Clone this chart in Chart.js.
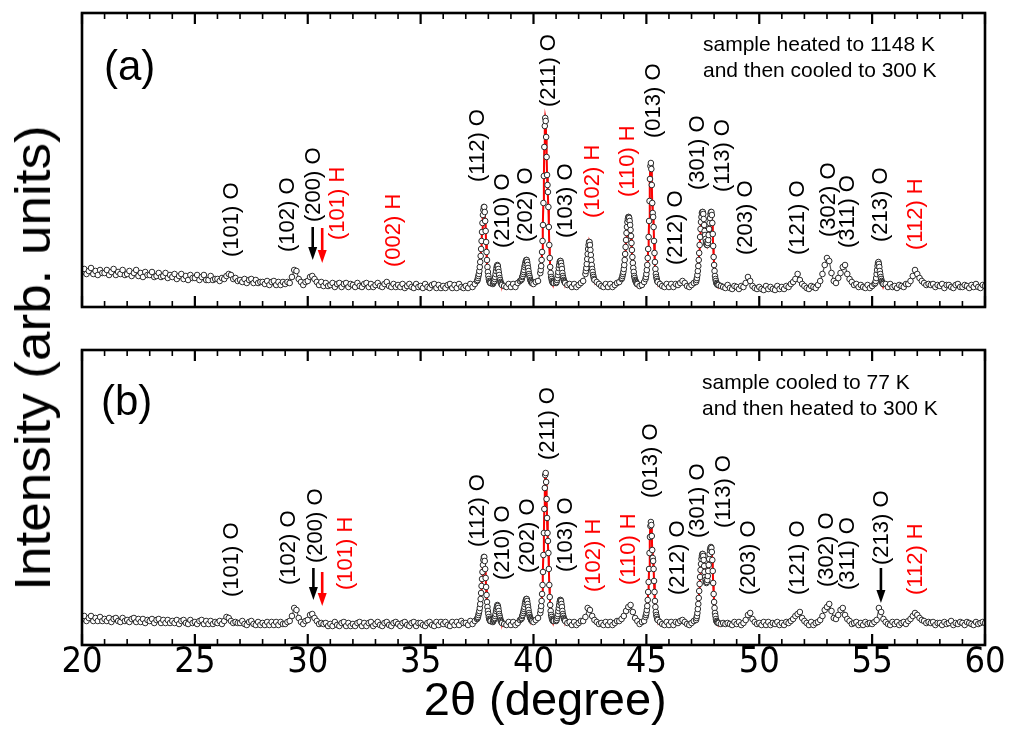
<!DOCTYPE html>
<html><head><meta charset="utf-8">
<script src="https://cdn.jsdelivr.net/npm/chart.js@4.4.1/dist/chart.umd.min.js"></script>
<style>
html,body{margin:0;padding:0;background:#fff;}
#wrap{position:relative;width:1009px;height:736px;overflow:hidden;background:#fff;}
#ca{position:absolute;left:0;top:0;}
#cb{position:absolute;left:0;top:330px;}
#ytitle{position:absolute;left:33px;top:358px;transform:translate(-50%,-50%) rotate(-90deg) scaleX(1.06);font-family:"Liberation Sans",Arial,sans-serif;font-size:50px;white-space:nowrap;color:#000;line-height:1;}
</style></head>
<body><div id="wrap"><canvas id="ca" width="1009" height="330"></canvas><canvas id="cb" width="1009" height="406"></canvas><div id="ytitle">Intensity (arb. units)</div></div>
<script>
// ---- data ----
const twoThetaStart = 20.0;
const twoThetaStep = 0.1;
const fineStep = 0.02;
const xTicks = [20, 25, 30, 35, 40, 45, 50, 55, 60];

// (a) sample heated to 1148 K and then cooled to 300 K -- survey scan
const intensityA = [
 35,38,33,36,39,33,36,32,37,34,
 34,37,32,35,38,32,35,33,37,32,
 33,36,31,34,37,31,34,30,35,32,
 32,35,30,31,34,30,31,34,29,32,
 30,33,28,31,33,28,31,27,32,29,
 29,32,27,30,32,27,27,31,27,28,
 28,26,29,28,31,33,32,28,29,26,
 27,25,28,24,27,28,24,27,24,25,
 25,23,26,22,25,26,22,25,22,25,
 23,25,24,30,37,36,28,25,22,25,
 26,30,31,28,25,22,25,21,24,21,
 22,24,20,23,24,20,23,24,20,23,
 22,20,24,21,20,23,24,20,23,20,
 22,24,21,20,23,25,21,20,23,20,
 22,20,23,19,21,23,20,19,23,20,
 21,19,23,20,19,22,23,19,22,19,
 21,19,22,23,19,22,19,23,20,19,
 21,19,23,20,23,27,40,66,100,60,
 31,25,23,31,42,33,25,21,20,23,
 20,23,20,24,26,32,42,47,36,26,
 23,25,26,38,104,181,132,62,28,24,
 23,34,46,35,26,22,23,20,23,20,
 22,24,26,34,53,62,38,31,25,23,
 21,20,23,20,23,20,22,24,25,28,
 38,67,90,77,44,27,24,21,22,25,
 33,70,144,90,38,25,23,21,20,23,
 20,23,20,23,22,24,26,24,21,20,
 22,24,27,41,78,95,71,62,84,92,
 36,24,22,21,20,19,22,19,18,21,
 20,18,21,20,24,30,26,21,19,18,
 20,18,17,21,18,20,18,17,21,18,
 20,18,21,20,23,25,28,33,27,23,
 21,19,18,21,20,19,22,26,33,42,
 49,46,34,26,24,29,34,40,42,33,
 28,25,22,23,20,22,20,19,22,19,
 21,23,27,45,33,26,23,20,23,20,
 21,19,22,21,20,23,23,26,31,37,
 33,29,26,24,22,23,22,23,20,22,
 21,23,19,22,22,20,19,22,23,20,
 20,22,21,19,22,20,23,20,19,22,
 21
];
// (a) fine scans over the peaks (step 0.02 deg)
const fineStartA = [37.50, 38.20, 39.46, 40.30, 41.00, 42.30, 43.90, 44.96, 47.20, 55.14];
const scanA_112 = [26,27,29,31,33,36,40,45,51,58,66,75,84,92,97,100,100,95,86,76,65,55,47,40,35,31,28,26,25,24,24];
const scanA_210 = [23,24,25,26,28,30,33,36,39,41,42,41,38,35,32,29,27,25,24,23,22];
const scanA_202 = [27,28,30,31,33,35,37,40,42,44,46,47,47,45,42,39,36,33,31,29,27,26,25,24,24];
const scanA_211 = [34,37,41,47,55,66,82,104,131,160,181,189,186,170,150,132,122,115,100,80,62,49,40,34,30,28,26,25,24];
const scanA_103 = [24,25,27,29,32,35,39,42,45,46,46,44,41,38,34,31,29,27,26,25,24];
const scanA_102H = [33,36,39,43,48,53,58,62,65,65,62,57,52,47,42,38,35,32,30,28,27];
const scanA_110H = [28,29,31,33,35,38,42,47,53,60,67,74,80,85,88,90,90,89,86,82,77,71,64,57,50,44,39,35,31,29,27,26,25,24,23,23];
const scanA_013 = [28,30,33,37,42,49,58,70,86,106,128,141,144,138,122,104,94,90,80,66,54,45,38,33,30,28,26,25];
const scanA_301_113 = [25,27,29,32,36,41,47,54,62,70,78,85,90,94,95,95,93,88,82,76,72,68,65,63,62,62,64,67,72,78,84,89,93,95,95,92,84,73,61,50,42,36,31,28,26,24,23,23,22];
const scanA_213 = [24,26,29,33,37,41,44,45,43,40,36,33,30,28,26,25,24,23,23];

// (b) sample cooled to 77 K and then heated to 300 K -- survey scan
const intensityB = [
 26,29,24,27,29,24,27,24,28,24,
 26,24,27,23,26,27,24,23,27,24,
 25,23,26,27,23,26,23,26,22,25,
 24,26,22,25,26,22,25,22,25,22,
 24,22,25,21,24,25,22,21,25,22,
 23,21,24,25,21,24,21,24,21,23,
 22,24,21,24,28,27,24,22,23,22,
 22,24,21,20,23,24,21,20,23,20,
 22,20,23,20,23,20,23,20,23,21,
 21,23,24,29,37,35,27,23,21,24,
 25,30,31,27,24,21,22,21,22,19,
 21,19,23,20,19,22,23,19,22,19,
 21,19,22,23,19,22,19,22,23,19,
 21,23,20,19,22,23,20,19,22,23,
 21,19,22,23,20,19,22,23,19,22,
 22,20,19,22,23,20,19,23,20,23,
 21,23,20,19,23,20,23,20,24,22,
 22,20,24,21,24,26,34,52,88,58,
 31,24,23,30,40,32,25,21,20,23,
 20,23,20,22,25,31,39,46,36,26,
 23,25,27,32,60,157,127,60,28,24,
 23,30,45,36,26,22,23,20,23,20,
 22,24,24,28,37,35,29,25,23,21,
 22,20,23,20,23,20,22,24,24,26,
 29,34,38,40,33,27,24,21,23,24,
 32,63,123,84,38,25,23,21,20,23,
 20,23,20,23,22,24,25,23,21,20,
 22,24,25,41,75,91,68,65,91,93,
 43,24,22,21,22,21,22,21,20,23,
 21,23,20,22,25,30,32,26,23,21,
 22,20,23,20,23,20,22,21,23,20,
 22,20,23,22,24,26,29,31,33,27,
 24,22,20,23,20,22,23,25,29,35,
 38,41,34,27,26,30,35,37,30,26,
 24,21,22,23,20,22,20,23,21,22,
 21,23,25,37,33,26,23,21,20,23,
 21,23,20,22,23,21,24,26,29,32,
 30,27,25,24,22,23,22,23,20,22,
 22,20,23,21,22,24,20,22,21,23,
 22,20,23,22,21,20,23,21,22,23,
 22
];
const fineStartB = [37.50, 38.20, 39.46, 40.30, 41.00, 44.96, 47.20];
const scanB_112 = [26,27,28,30,32,34,37,41,46,52,59,66,73,80,85,88,88,84,76,67,58,50,43,38,34,31,28,26,25,24,24];
const scanB_210 = [23,24,25,26,27,29,31,34,36,38,40,39,37,34,31,29,27,25,24,23,22];
const scanB_202 = [26,27,29,30,32,34,36,38,41,43,45,46,46,44,41,38,35,32,30,28,27,26,25,24,24];
const scanB_211 = [32,35,39,44,51,60,73,90,112,136,157,170,172,163,146,127,112,104,92,76,60,48,40,34,30,28,26,25,24];
const scanB_103 = [24,25,27,29,31,34,37,40,43,45,45,44,41,38,34,31,29,27,26,25,24];
const scanB_013 = [28,30,32,35,39,45,53,63,76,92,108,119,123,120,109,95,87,84,76,64,53,44,38,33,30,28,26,25];
const scanB_301_113 = [25,27,29,32,36,41,47,54,61,68,75,81,86,89,91,91,89,85,79,73,68,65,63,62,63,65,69,74,80,86,91,95,97,98,97,93,85,74,62,51,43,37,32,29,26,24,23,23,22];

// peak labels: text, 2theta, label base height (intensity units), phase
const peakLabelsA = [
 ['(101) O',26.60,50,'O'],['(102) O',29.07,55,'O'],['(200) O',30.23,85,'O'],['(101) H',31.28,67,'H'],
 ['(002) H',33.79,40,'H'],['(112) O',37.48,125,'O'],['(210) O',38.59,59,'O'],['(202) O',39.62,65,'O'],
 ['(211) O',40.66,200,'O'],['(103) O',41.40,69,'O'],['(102) H',42.58,89,'H'],['(110) H',44.13,110,'H'],
 ['(013) O',45.31,169,'O'],['(212) O',46.27,42,'O'],['(301) O',47.23,117,'O'],['(113) O',48.34,115,'O'],
 ['(203) O',49.37,52,'O'],['(121) O',51.66,52,'O'],['(302) O',53.06,70,'O'],['(311) O',53.87,59,'O'],
 ['(213) O',55.35,65,'O'],['(112) H',56.90,57,'H']
];
const peakLabelsB = [
 ['(101) O',26.60,48,'O'],['(102) O',29.11,60,'O'],['(200) O',30.32,82,'O'],['(101) H',31.65,55,'H'],
 ['(112) O',37.48,98,'O'],['(210) O',38.59,65,'O'],['(202) O',39.70,72,'O'],['(211) O',40.58,185,'O'],
 ['(103) O',41.40,73,'O'],['(102) H',42.65,53,'H'],['(110) H',44.20,60,'H'],['(013) O',45.16,147,'O'],
 ['(212) O',46.34,50,'O'],['(301) O',47.23,107,'O'],['(113) O',48.41,117,'O'],['(203) O',49.52,50,'O'],
 ['(121) O',51.66,50,'O'],['(302) O',52.96,58,'O'],['(311) O',53.87,55,'O'],['(213) O',55.39,80,'O'],
 ['(112) H',56.90,50,'H']
];
// arrows: 2theta, from height, to height, phase
const arrowsA = [[30.22,80,47,'O'],[30.64,79,44,'H']];
const arrowsB = [[30.25,77,45,'O'],[30.64,73,39,'H'],[55.39,77,42,'O']];

const panelTextA = ['(a)','sample heated to 1148 K','and then cooled to 300 K'];
const panelTextB = ['(b)','sample cooled to 77 K','and then heated to 300 K'];

// ---- helpers ----
const COLORS = {O:'#000000', H:'#ff0000'};
function buildPoints(coarse, starts, scans){
  const win = scans.map((s,i)=>[starts[i], starts[i]+(s.length-1)*fineStep]);
  const pts=[], red=[];
  coarse.forEach((v,i)=>{
    const x=+(twoThetaStart+i*twoThetaStep).toFixed(2);
    if(!win.some(([a,b])=>x>=a-1e-6 && x<=b+1e-6)) pts.push({x,y:v});
  });
  scans.forEach((s,j)=>{
    s.forEach((v,i)=>{ const x=+(starts[j]+i*fineStep).toFixed(2); pts.push({x,y:v}); red.push({x,y:v}); });
    red.push({x:+(win[j][1]+0.01).toFixed(2), y:null});
  });
  pts.sort((p,q)=>p.x-q.x);
  return {pts, red};
}
function hasFont(name){
  const c=document.createElement('canvas').getContext('2d');
  const s='20 25 30 2θ (degree)';
  c.font='40px monospace'; const a=c.measureText(s).width;
  c.font='40px "'+name+'", monospace'; const b=c.measureText(s).width;
  return Math.abs(a-b)>0.5;
}
const SANS = '"Liberation Sans", Arial, sans-serif';
const NARROW = hasFont('Liberation Sans Narrow') ? '"Liberation Sans Narrow"' : (hasFont('DejaVu Sans Condensed') ? '"DejaVu Sans Condensed"' : SANS);

const framePlugin = {
  id:'frame',
  afterDraw(chart){
    const {ctx, chartArea:{left,right,top,bottom}, scales:{x}} = chart;
    ctx.save();
    ctx.strokeStyle='#000';
    for(let v=20; v<=60; v++){
      const px=x.getPixelForValue(v);
      const major=(v%5===0);
      const len=major?11:6;
      ctx.lineWidth=major?2.2:1.6;
      ctx.beginPath();
      ctx.moveTo(px,bottom); ctx.lineTo(px,bottom-len);
      ctx.moveTo(px,top); ctx.lineTo(px,top+len);
      ctx.stroke();
    }
    ctx.lineWidth=2.6;
    ctx.strokeRect(left,top,right-left,bottom-top);
    ctx.restore();
  }
};

const annotPlugin = {
  id:'annot',
  afterDatasetsDraw(chart, args, opts){
    const {ctx, scales:{x,y}} = chart;
    ctx.save();
    ctx.font='22px '+SANS;
    ctx.textAlign='left'; ctx.textBaseline='middle';
    for(const [t,tt,h,k] of opts.labels){
      const px=x.getPixelForValue(tt), py=y.getPixelForValue(h);
      ctx.save(); ctx.translate(px,py); ctx.rotate(-Math.PI/2);
      ctx.fillStyle=COLORS[k]; ctx.fillText(t,0,1); ctx.restore();
    }
    for(const [tt,h0,h1,k] of opts.arrows){
      const px=x.getPixelForValue(tt), y0=y.getPixelForValue(h0), y1=y.getPixelForValue(h1);
      ctx.strokeStyle=COLORS[k]; ctx.fillStyle=COLORS[k]; ctx.lineWidth=2.6;
      ctx.beginPath(); ctx.moveTo(px,y0); ctx.lineTo(px,y1-11); ctx.stroke();
      ctx.beginPath(); ctx.moveTo(px-4.5,y1-13); ctx.lineTo(px+4.5,y1-13); ctx.lineTo(px,y1); ctx.closePath(); ctx.fill();
    }
    const [tag,l1,l2]=opts.texts; const p=opts.textPos;
    ctx.fillStyle='#000'; ctx.textAlign='left'; ctx.textBaseline='middle';
    ctx.font='42px '+SANS; ctx.fillText(tag,p.tagX,p.tagY);
    ctx.font='21px '+SANS;
    ctx.fillText(l1,p.txtX,p.l1Y);
    ctx.fillText(l2,p.txtX,p.l2Y);
    ctx.restore();
  }
};

function datasets(coarse, starts, scans){
  const {pts, red}=buildPoints(coarse, starts, scans);
  return [
    {data:pts, showLine:false, pointRadius:2.8, pointBorderWidth:1, pointBackgroundColor:'#ffffff', pointBorderColor:'#2a2a2a'},
    {data:red, showLine:true, spanGaps:false, borderColor:'#ff0000', borderWidth:2, pointRadius:0, fill:false},
    {data:pts, showLine:true, borderColor:'#555555', borderWidth:1.2, pointRadius:0, fill:false}
  ];
}

new Chart(document.getElementById('ca'), {
  type:'scatter',
  data:{datasets:datasets(intensityA, fineStartA, [scanA_112, scanA_210, scanA_202, scanA_211, scanA_103, scanA_102H, scanA_110H, scanA_013, scanA_301_113, scanA_213])},
  options:{
    responsive:false, animation:false, events:[],
    layout:{padding:{left:82,right:24,top:13,bottom:23}},
    plugins:{legend:{display:false}, tooltip:{enabled:false},
      annot:{labels:peakLabelsA, arrows:arrowsA, texts:panelTextA,
        textPos:{tagX:104,tagY:68,txtX:703,l1Y:45,l2Y:71}}},
    scales:{
      x:{type:'linear',min:20,max:60,display:false},
      y:{min:0,max:294,display:false}
    }
  },
  plugins:[annotPlugin, framePlugin]
});

new Chart(document.getElementById('cb'), {
  type:'scatter',
  data:{datasets:datasets(intensityB, fineStartB, [scanB_112, scanB_210, scanB_202, scanB_211, scanB_103, scanB_013, scanB_301_113])},
  options:{
    responsive:false, animation:false, events:[],
    layout:{padding:{left:82,right:24,top:20,bottom:0}},
    plugins:{legend:{display:false}, tooltip:{enabled:false},
      annot:{labels:peakLabelsB, arrows:arrowsB, texts:panelTextB,
        textPos:{tagX:101,tagY:73,txtX:702,l1Y:53,l2Y:79}}},
    scales:{
      x:{type:'linear',min:20,max:60,position:'bottom',
        grid:{display:false}, border:{display:false},
        afterBuildTicks:(s)=>{ s.ticks = xTicks.map(v=>({value:v})); },
        ticks:{color:'#000', font:{family:NARROW,size:36}, padding:-12, maxRotation:0, autoSkip:false},
        title:{display:true, text:'\u20022θ (degree)', color:'#000', font:{family:SANS,size:47}, padding:{top:0,bottom:6}},
        afterFit:(s)=>{ s.height=91; }
      },
      y:{min:0,max:295,display:false}
    }
  },
  plugins:[annotPlugin, framePlugin]
});
</script>
</body></html>
